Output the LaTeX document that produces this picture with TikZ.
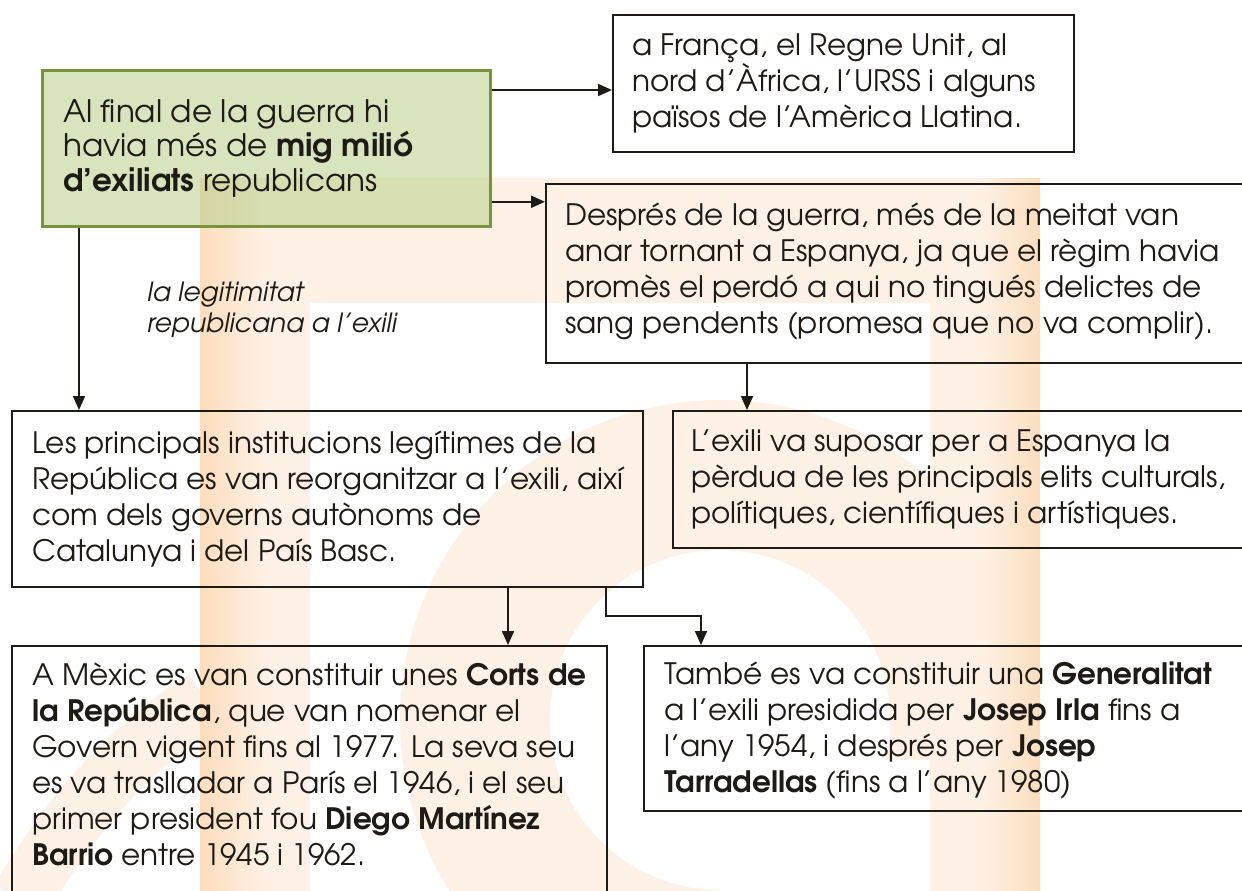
\documentclass[tikz,border=0pt]{standalone}
\usepackage{fontspec}
\setmainfont{texgyreadventor}[Extension=.otf, UprightFont=*-regular, BoldFont=*-bold, ItalicFont=*-italic, BoldItalicFont=*-bolditalic]
\usetikzlibrary{arrows.meta,calc}
\definecolor{wm}{HTML}{FDF0E4}
\definecolor{wmo}{HTML}{FCDDBD}
\definecolor{gfill}{HTML}{BCD291}
\definecolor{gline}{HTML}{77933C}
\definecolor{ink}{HTML}{1E1A16}
\begin{document}
\begin{tikzpicture}[x=1pt,y=-1pt,
  box/.style={draw=ink, line width=1.8pt, anchor=north west, inner sep=0pt},
  txt/.style={anchor=west, align=left, inner sep=0pt, text=ink, font=\fontsize{29.5}{36}\selectfont},
  gtxt/.style={anchor=west, align=left, inner sep=0pt, text=ink, font=\fontsize{31}{34.5}\selectfont},
  lbl/.style={anchor=west, align=left, inner sep=0pt, text=ink, font=\itshape\fontsize{26.5}{31}\selectfont},
  arr/.style={draw=ink, line width=2pt, -{Triangle[length=14pt,width=12pt]}}]
\useasboundingbox (0,0) rectangle (1242,891);
\clip (0,0) rectangle (1242,891);
% watermark
\fill[wm] (200,178) rectangle (1040,303);
\fill[wm] (200,303) rectangle (310,891);
\fill[wm] (930,303) rectangle (1040,891);
\begin{scope}
  \clip (310,303) -- (930,303) -- (930,760) -- (720,760) -- (720,891) -- (310,891) -- cycle;
  \fill[wm, even odd rule] (720,720) circle[radius=320] (720,720) circle[radius=170];
\end{scope}
\draw[wm, line width=60pt] (20,900) .. controls (80,800) and (140,740) .. (205,700);
\shade[left color=wmo, right color=wm] (200,178) rectangle (262,891);
\shade[left color=wm, right color=wmo] (985,178) rectangle (1040,891);
% boxes
\node[box, draw=gline, line width=2.8pt, fill=gfill, fill opacity=0.6, minimum width=448pt, minimum height=156pt] (g) at (41,69) {};
\node[gtxt] (gt) at ([xshift=22pt]g.west) {Al final de la guerra hi\\havia més de \textbf{mig milió}\\\textbf{d’exiliats} republicans};
\node[box, minimum width=461pt, minimum height=137pt] (A) at (612,14) {};
\node[txt] (At) at ([xshift=20pt]A.west) {a França, el Regne Unit, al\\nord d’Àfrica, l’URSS i alguns\\països de l’Amèrica Llatina.};
\node[box, minimum width=705pt, minimum height=179pt] (B) at (545,183) {};
\node[txt] (Bt) at ([xshift=20pt,yshift=2pt]B.west) {Després de la guerra, més de la meitat van\\anar tornant a Espanya, ja que el règim havia\\promès el perdó a qui no tingués delictes de\\sang pendents (promesa que no va complir).};
\node[lbl] (lab) at (147,310) {la legitimitat\\republicana a l’exili};
\node[box, minimum width=631pt, minimum height=176pt] (C) at (11,410) {};
\node[txt] (Ct) at ([xshift=21pt]C.west) {Les principals institucions legítimes de la\\República es van reorganitzar a l’exili, així\\com dels governs autònoms de\\Catalunya i del País Basc.};
\node[box, minimum width=580pt, minimum height=137pt] (D) at (672,410) {};
\node[txt] (Dt) at ([xshift=19pt]D.west) {L’exili va suposar per a Espanya la\\pèrdua de les principals elits culturals,\\polítiques, científiques i artístiques.};
\node[box, minimum width=595pt, minimum height=250pt] (E) at (11,645) {};
\node[txt, anchor=north west] (Et) at ([xshift=21pt,yshift=-18pt]E.north west) {A Mèxic es van constituir unes \textbf{Corts de}\\\textbf{la República}, que van nomenar el\\Govern vigent fins al 1977. La seva seu\\es va traslladar a París el 1946, i el seu\\primer president fou \textbf{Diego Martínez}\\\textbf{Barrio} entre 1945 i 1962.};
\node[box, minimum width=610pt, minimum height=165pt] (F) at (643,645) {};
\node[txt] (Ft) at ([xshift=21pt,yshift=-2pt]F.west) {També es va constituir una \textbf{Generalitat}\\a l’exili presidida per \textbf{Josep Irla} fins a\\l’any 1954, i després per \textbf{Josep}\\\textbf{Tarradellas} (fins a l’any 1980)};
% connectors
\draw[arr] ([yshift=-21pt]g.north east) -- ([yshift=-21pt]g.north east -| A.west);
\draw[arr] ([yshift=26pt]g.south east) -- ([yshift=26pt]g.south east -| B.west);
\draw[arr] ([xshift=38pt]g.south west) -- ([xshift=38pt]g.south west |- C.north);
\draw[arr] ([xshift=202pt]B.south west) -- ([xshift=202pt]B.south west |- D.north);
\draw[arr] ([xshift=497pt]C.south west) -- ([xshift=497pt]C.south west |- E.north);
\coordinate (k) at ([xshift=58pt]F.north west);
\draw[arr] ([xshift=595pt]C.south west) |- ([yshift=29pt]k) -- (k);
\end{tikzpicture}
\end{document}
